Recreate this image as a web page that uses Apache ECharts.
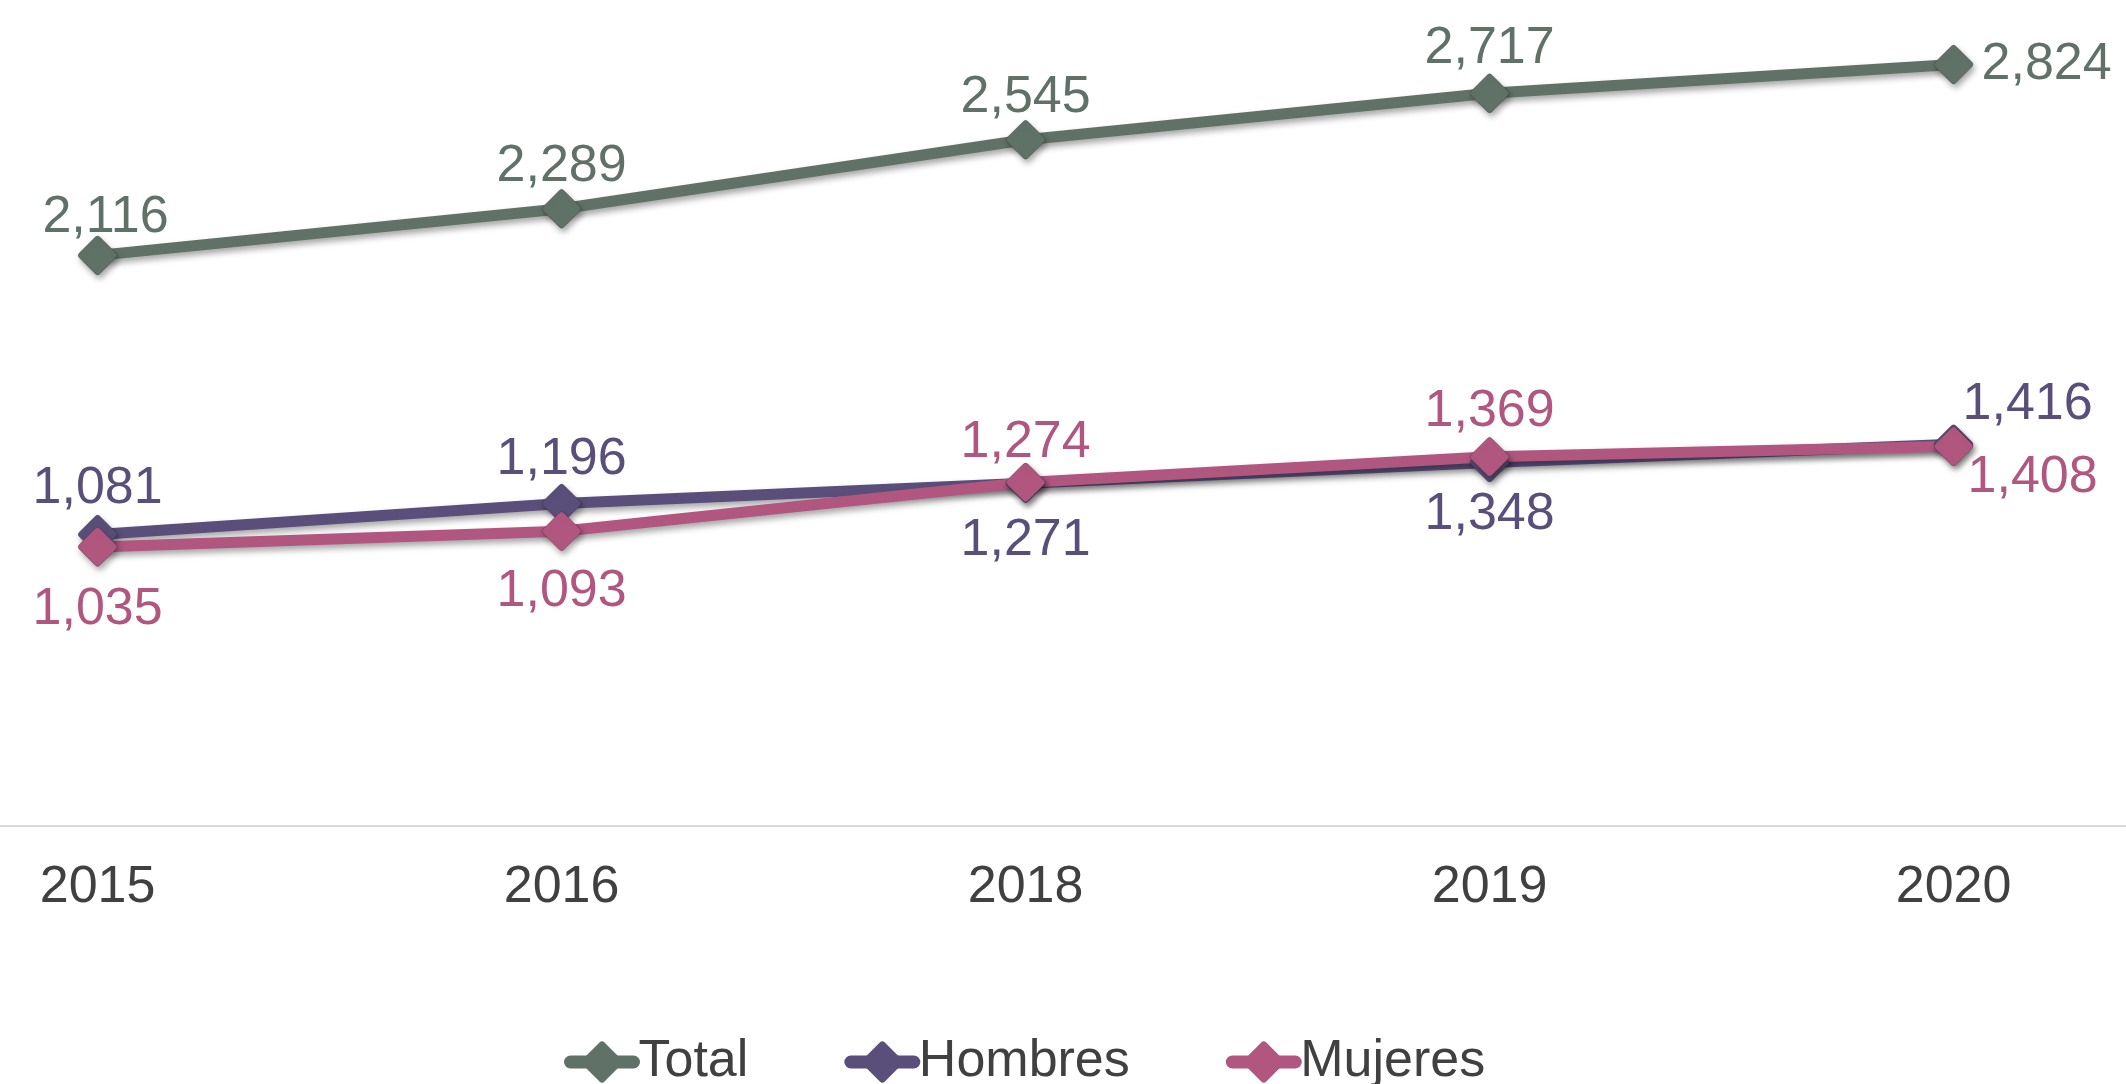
<!DOCTYPE html>
<html>
<head>
<meta charset="utf-8">
<script src="https://cdn.jsdelivr.net/npm/echarts@6/dist/echarts.min.js"></script>
<style>
  html, body { margin: 0; padding: 0; background: #fff; }
  #chart { width: 2126px; height: 1084px; }
</style>
</head>
<body>
<div id="chart"></div>
<script>
const years = ["2015", "2016", "2018", "2019", "2020"];
const total = [2116, 2289, 2545, 2717, 2824];
const hombres = [1081, 1196, 1271, 1348, 1416];
const mujeres = [1035, 1093, 1274, 1369, 1408];

const COLORS = {
  total: "#607268",
  hombres: "#5a4f7b",
  mujeres: "#b0567f",
};

const FONT = "'Liberation Sans', Arial, sans-serif";

// diamond with slightly rounded corners
const DIAMOND =
  "path://M44.3 5.7Q50 0 55.7 5.7L94.3 44.3Q100 50 94.3 55.7L55.7 94.3Q50 100 44.3 94.3L5.7 55.7Q0 50 5.7 44.3Z";

// label placement per point
const above = (d, dx = 0) => ({ position: "top", distance: d, offset: [dx, 0] });
const below = (d) => ({ position: "bottom", distance: d });
const totalLabels = [above(-8, 8), above(-4), above(-4), above(-1), { position: "right", distance: 8 }];
const hombresLabels = [above(0), above(-2), below(11), below(6), { position: "right", distance: 5, offset: [-16, -39] }];
const mujeresLabels = [below(17), below(14), above(-6), above(-1), { position: "right", distance: 5, offset: [-11, 31] }];

const fmt = (v) => v.toLocaleString("en-US");

const shadow = {
  shadowColor: "rgba(0, 0, 0, 0.35)",
  shadowBlur: 6,
  shadowOffsetX: 2,
  shadowOffsetY: 4,
};

const buildSeries = (name, values, labels, color) => ({
  name,
  type: "line",
  data: values.map((v, i) => ({ value: [i, v], label: labels[i] })),
  symbol: DIAMOND,
  symbolSize: 39,
  lineStyle: { width: 11, color, ...shadow },
  itemStyle: {
    color,
    borderColor: "rgba(0, 0, 0, 0.2)",
    borderWidth: 1,
    ...shadow,
  },
  label: {
    show: true,
    color,
    fontSize: 52,
    fontFamily: FONT,
    formatter: (p) => fmt(p.value[1]),
  },
  emphasis: { disabled: true },
});

const chart = echarts.init(document.getElementById("chart"));

chart.setOption({
  animation: false,
  grid: { left: 0, right: 0, top: 17, bottom: 258 },
  xAxis: {
    type: "value",
    min: -0.2103,
    max: 4.3716,
    axisLine: { show: true, lineStyle: { color: "#d9d9d9", width: 2 } },
    axisTick: { show: false },
    splitLine: { show: false },
    axisLabel: {
      customValues: years.map((_, i) => i),
      formatter: (v) => years[Math.round(v)],
      color: "#404040",
      fontSize: 52,
      fontFamily: FONT,
      margin: 36,
    },
  },
  yAxis: {
    type: "value",
    min: 0,
    max: 3000,
    show: false,
  },
  legend: {
    left: 559,
    top: 1031,
    itemWidth: 63,
    itemHeight: 52,
    itemGap: 96,
    lineStyle: { width: 13, cap: "round", shadowBlur: 0, shadowOffsetX: 0, shadowOffsetY: 0 },
    itemStyle: { shadowBlur: 0, shadowOffsetX: 0, shadowOffsetY: 0, borderWidth: 0 },
    textStyle: { color: "#404040", fontSize: 52, fontFamily: FONT },
    data: ["Total", "Hombres", "Mujeres"],
  },
  series: [
    buildSeries("Total", total, totalLabels, COLORS.total),
    buildSeries("Hombres", hombres, hombresLabels, COLORS.hombres),
    buildSeries("Mujeres", mujeres, mujeresLabels, COLORS.mujeres),
  ],
});
</script>
</body>
</html>
